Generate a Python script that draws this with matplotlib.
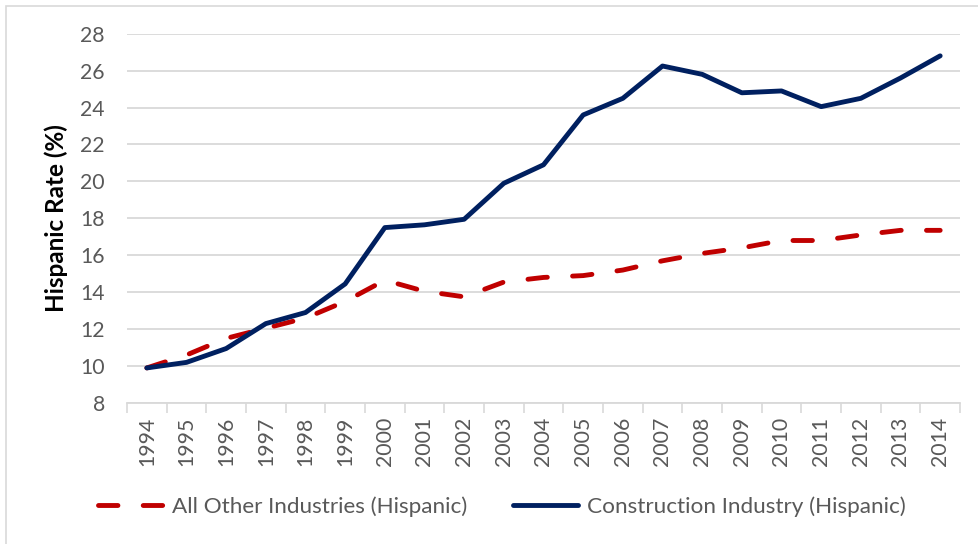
import matplotlib
matplotlib.use("Agg")
import matplotlib.pyplot as plt
from matplotlib.patches import Rectangle
import numpy as np

years = [str(y) for y in range(1994, 2015)]
other_industries = [9.9, 10.6, 11.5, 12.05, 12.6, 13.5, 14.65, 14.05, 13.75, 14.55,
                    14.8, 14.9, 15.2, 15.7, 16.1, 16.4, 16.8, 16.8, 17.1, 17.35, 17.35]
construction = [9.9, 10.2, 10.95, 12.3, 12.9, 14.45, 17.5, 17.65, 17.95, 19.9,
                20.9, 23.6, 24.5, 26.25, 25.8, 24.8, 24.9, 24.05, 24.5, 25.6, 26.8]
y_ticks = list(range(8, 29, 2))

W, H = 979, 544
gray_txt = "#595959"
grid_col = "#D9D9D9"

plt.rcParams["font.family"] = ["Lato", "DejaVu Sans"]

fig = plt.figure(figsize=(W / 100, H / 100), dpi=100)

# light border round the chart area
fig.patches.append(Rectangle((6.5 / W, -0.1), 1.2, 1 - 5.5 / H + 0.1,
                             transform=fig.transFigure, fill=False,
                             edgecolor="#D9D9D9", linewidth=1.2))

left, right, top, bottom = 127, 960, 33.7, 403
ax = fig.add_axes([left / W, 1 - bottom / H, (right - left) / W, (bottom - top) / H])

x = np.arange(len(years))
l1, = ax.plot(x, other_industries, color="#C00000", linewidth=3.5,
              dashes=(4.0, 5.2), dash_capstyle="round", solid_capstyle="round",
              label="All Other Industries (Hispanic)", zorder=3)
l2, = ax.plot(x, construction, color="#002060", linewidth=3.5,
              solid_capstyle="round", solid_joinstyle="round",
              label="Construction Industry (Hispanic)", zorder=4)

ax.set_xlim(-0.5, len(years) - 0.5)
ax.set_ylim(8, 28)
ax.set_yticks(y_ticks)
ax.set_yticklabels([str(v) for v in y_ticks])
ax.yaxis.grid(True, color=grid_col, linewidth=1.3)
ax.set_axisbelow(True)

ax.set_xticks(x)
ax.set_xticklabels(years, rotation=90)
ax.set_xticks(np.arange(-0.5, len(years)), minor=True)
ax.tick_params(axis="x", which="major", length=0, pad=10, labelsize=15.3, labelcolor=gray_txt)
ax.tick_params(axis="x", which="minor", length=7, width=1.2, color=grid_col, direction="out")
ax.tick_params(axis="y", length=0, pad=16, labelsize=15.3, labelcolor=gray_txt)

for s in ["top", "right", "left"]:
    ax.spines[s].set_visible(False)
ax.spines["bottom"].set_color(grid_col)
ax.spines["bottom"].set_linewidth(1.3)

ax.set_ylabel("Hispanic Rate (%)", fontsize=17.5, fontweight="bold", color="black", labelpad=9)

fig.legend(handles=[l1, l2], loc="center", bbox_to_anchor=(502 / W, 1 - 507 / H),
           ncol=2, frameon=False, fontsize=16.2, labelcolor=gray_txt,
           handlelength=2.9, handletextpad=0.4, columnspacing=2.0)

fig.savefig("out.png", dpi=100)
